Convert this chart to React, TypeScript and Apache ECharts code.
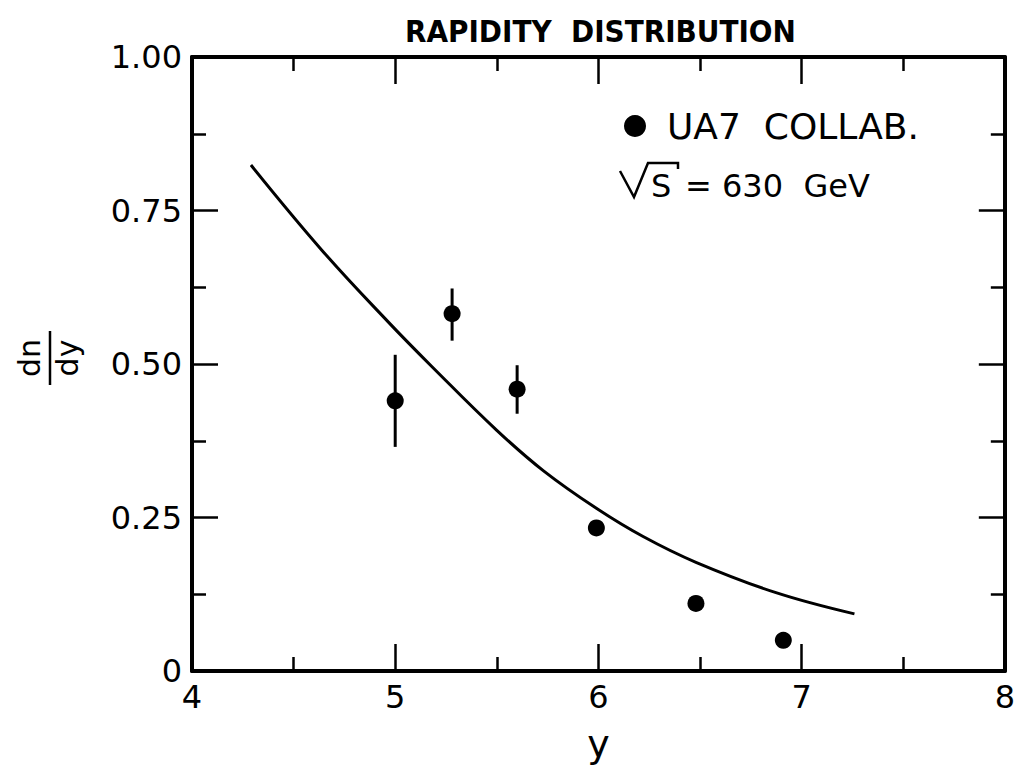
import React, { useEffect, useRef } from "react";
import * as echarts from "echarts";

// Measured data points (UA7 collaboration)
const pointX = [5.0, 5.28, 5.6, 5.99, 6.48, 6.91];
const pointY = [0.44, 0.582, 0.459, 0.233, 0.11, 0.05];
const errMinus = [0.075, 0.044, 0.04, 0, 0, 0];
const errPlus = [0.075, 0.041, 0.039, 0, 0, 0];

// Theory curve
const curveX = [4.29, 4.64, 4.97, 5.18, 5.5, 5.73, 5.99, 6.22, 6.48, 6.87, 7.26];
const curveY = [0.824, 0.685, 0.567, 0.496, 0.392, 0.326, 0.265, 0.219, 0.177, 0.128, 0.093];

const xTicks = [4, 5, 6, 7, 8];
const yTicks = [0, 0.25, 0.5, 0.75, 1.0];

const FONT = "'DejaVu Sans', sans-serif";

export default function App() {
  const ref = useRef<HTMLDivElement>(null);
  useEffect(() => {
    if (!ref.current) return;
    const chart = echarts.init(ref.current, undefined, { renderer: "svg" });
    const black = "#000";
    const baseX = {
      type: "value",
      min: xTicks[0],
      max: xTicks[xTicks.length - 1],
      interval: 1,
      splitLine: { show: false },
      axisLine: { show: true, onZero: false, lineStyle: { color: black, width: 4 } },
      axisTick: { show: true, inside: true, length: 27, lineStyle: { color: black, width: 2.5 } },
      minorTick: { show: true, splitNumber: 2, length: 14, lineStyle: { color: black, width: 2.5 } },
    };
    const baseY = {
      type: "value",
      min: yTicks[0],
      max: yTicks[yTicks.length - 1],
      interval: 0.25,
      splitLine: { show: false },
      axisLine: { show: true, onZero: false, lineStyle: { color: black, width: 4 } },
      axisTick: { show: true, inside: true, length: 26, lineStyle: { color: black, width: 2.5 } },
      minorTick: { show: true, splitNumber: 2, length: 14, lineStyle: { color: black, width: 2.5 } },
    };
    chart.setOption({
      animation: false,
      backgroundColor: "#fff",
      title: {
        text: "RAPIDITY  DISTRIBUTION",
        left: 400,
        top: 10,
        textStyle: {
          fontFamily: "'DejaVu Sans Condensed', 'DejaVu Sans', sans-serif",
          fontSize: 31,
          fontWeight: "bold",
          color: black,
        },
      },
      legend: {
        show: true,
        left: 619,
        top: 103,
        itemWidth: 22,
        itemHeight: 22,
        itemGap: 10,
        icon: "circle",
        data: ["UA7  COLLAB."],
        itemStyle: { color: black, opacity: 1 },
        textStyle: { fontFamily: FONT, fontSize: 36, color: black, padding: [0, 0, 0, 16] },
      },
      grid: { left: 192, right: 6, top: 57, bottom: 92, containLabel: false },
      xAxis: [
        {
          ...baseX,
          position: "bottom",
          name: "y",
          nameLocation: "middle",
          nameGap: 54,
          nameTextStyle: { fontFamily: FONT, fontSize: 38, color: black },
          axisLabel: { show: true, margin: 10, fontFamily: FONT, fontSize: 32, color: black },
        },
        { ...baseX, position: "top", axisLabel: { show: false } },
      ],
      yAxis: [
        {
          ...baseY,
          position: "left",
          axisLabel: {
            show: true,
            margin: 10,
            fontFamily: FONT,
            fontSize: 32,
            color: black,
            formatter: (v: number) => (v === 0 ? "0" : v.toFixed(2)),
          },
        },
        { ...baseY, position: "right", axisLabel: { show: false } },
      ],
      graphic: [
        {
          type: "group",
          x: 50,
          y: 358,
          rotation: Math.PI / 2,
          children: [
            {
              type: "text",
              x: 0,
              y: -6,
              style: { text: "dn", font: `30px ${FONT}`, fill: black, align: "center", verticalAlign: "bottom" },
            },
            { type: "line", shape: { x1: -27, y1: 0, x2: 27, y2: 0 }, style: { stroke: black, lineWidth: 2.5 } },
            {
              type: "text",
              x: 0,
              y: 2,
              style: { text: "dy", font: `30px ${FONT}`, fill: black, align: "center", verticalAlign: "top" },
            },
          ],
        },
        {
          type: "polyline",
          shape: { points: [[620, 171], [634, 197], [648, 163], [678, 163], [678, 169]] },
          style: { stroke: black, lineWidth: 2.5, fill: null },
        },
        {
          type: "text",
          x: 651,
          y: 186,
          style: { text: "S", font: `32px ${FONT}`, fill: black, verticalAlign: "middle" },
        },
        {
          type: "text",
          x: 685,
          y: 186,
          style: { text: "= 630  GeV", font: `32px ${FONT}`, fill: black, verticalAlign: "middle" },
        },
      ],
      series: [
        {
          name: "theory",
          type: "line",
          xAxisIndex: 0,
          yAxisIndex: 0,
          data: curveX.map((x, i) => [x, curveY[i]]),
          smooth: 0.4,
          showSymbol: false,
          symbol: "none",
          lineStyle: { color: black, width: 3 },
          z: 3,
        },
        {
          name: "UA7  COLLAB. errors",
          type: "custom",
          xAxisIndex: 0,
          yAxisIndex: 0,
          data: pointX
            .map((x, i) => [x, pointY[i] - errMinus[i], pointY[i] + errPlus[i]])
            .filter((d, i) => errMinus[i] > 0 || errPlus[i] > 0),
          encode: { x: 0, y: [1, 2] },
          renderItem: (params: any, api: any) => {
            const x = api.value(0);
            const p1 = api.coord([x, api.value(1)]);
            const p2 = api.coord([x, api.value(2)]);
            return {
              type: "line",
              shape: { x1: p1[0], y1: p1[1], x2: p2[0], y2: p2[1] },
              style: { stroke: black, lineWidth: 3 },
            };
          },
          z: 4,
        },
        {
          name: "UA7  COLLAB.",
          type: "scatter",
          xAxisIndex: 0,
          yAxisIndex: 0,
          data: pointX.map((x, i) => [x, pointY[i]]),
          symbol: "circle",
          symbolSize: 17,
          itemStyle: { color: black, opacity: 1 },
          z: 5,
        },
      ],
    });
    return () => chart.dispose();
  }, []);
  return (
    <div
      ref={ref}
      style={{ position: "fixed", left: 0, top: 0, width: 1018, height: 768, background: "#fff" }}
    />
  );
}
